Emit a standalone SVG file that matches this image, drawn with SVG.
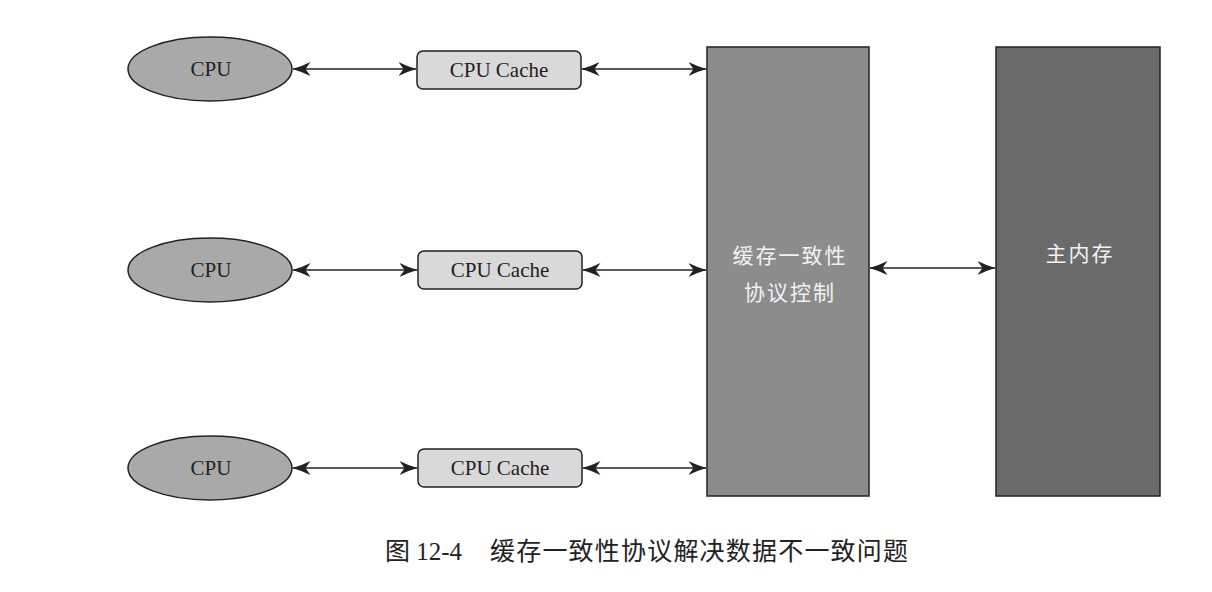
<svg xmlns="http://www.w3.org/2000/svg" width="1212" height="592" viewBox="0 0 1212 592">
<defs>
<marker id="ah" viewBox="0 0 18 14" refX="17.5" refY="7" markerWidth="18" markerHeight="14" markerUnits="userSpaceOnUse" orient="auto-start-reverse">
<path d="M0,0 Q9,4.5 18,7 Q9,9.5 0,14 L5,7 z" fill="#222"/>
</marker>
<style>
.cpu{fill:#a9a9a9;stroke:#222;stroke-width:1.5}
.cache{fill:#d9d9d9;stroke:#222;stroke-width:1.5}
.ctrl{fill:#8c8c8c;stroke:#222;stroke-width:1.5}
.mem{fill:#6b6b6b;stroke:#222;stroke-width:1.5}
.lat{font-family:"Liberation Serif",serif;font-size:21px;fill:#222;text-anchor:middle}
.cjk{font-family:"Noto Sans CJK SC",sans-serif;font-size:21px;letter-spacing:2px;fill:#f2f2f2;text-anchor:middle}
.cap{font-family:"Liberation Serif","Noto Sans CJK SC",serif;font-size:25px;fill:#222}
.conn{stroke:#222;stroke-width:1.6;fill:none;marker-start:url(#ah);marker-end:url(#ah)}
</style>
</defs>
<rect width="1212" height="592" fill="#fff"/>
<g id="cpu1"><ellipse class="cpu" cx="210" cy="69" rx="82" ry="32"/><text class="lat" x="211" y="76">CPU</text></g>
<g id="cpu2"><ellipse class="cpu" cx="210" cy="270" rx="82" ry="32"/><text class="lat" x="211" y="277">CPU</text></g>
<g id="cpu3"><ellipse class="cpu" cx="210" cy="468" rx="82" ry="32"/><text class="lat" x="211" y="475">CPU</text></g>
<g id="cache1"><rect class="cache" x="417" y="51" width="164" height="38" rx="6"/><text class="lat" x="499" y="77">CPU Cache</text></g>
<g id="cache2"><rect class="cache" x="418" y="251" width="164" height="38" rx="6"/><text class="lat" x="500" y="277">CPU Cache</text></g>
<g id="cache3"><rect class="cache" x="418" y="449" width="164" height="38" rx="6"/><text class="lat" x="500" y="475">CPU Cache</text></g>
<g id="ctrl"><rect class="ctrl" x="707" y="47" width="162" height="449"/><text class="cjk" x="790" y="263">缓存一致性</text><text class="cjk" x="790" y="300">协议控制</text></g>
<g id="mem"><rect class="mem" x="996" y="47" width="164" height="449"/><text class="cjk" x="1080" y="261">主内存</text></g>
<g id="connectors">
<line class="conn" x1="293" y1="69" x2="416" y2="69"/>
<line class="conn" x1="582" y1="69" x2="706" y2="69"/>
<line class="conn" x1="293" y1="270" x2="417" y2="270"/>
<line class="conn" x1="583" y1="270" x2="706" y2="270"/>
<line class="conn" x1="293" y1="468" x2="417" y2="468"/>
<line class="conn" x1="583" y1="468" x2="706" y2="468"/>
<line class="conn" x1="870" y1="268" x2="995" y2="268"/>
</g>
<text class="cap" x="385" y="560">图 12-4<tspan x="490" textLength="418" lengthAdjust="spacing">缓存一致性协议解决数据不一致问题</tspan></text>
</svg>
